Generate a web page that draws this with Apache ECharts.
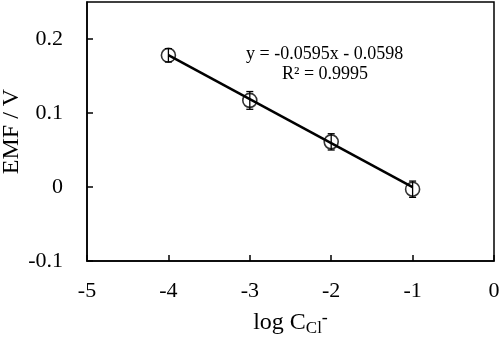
<!DOCTYPE html>
<html><head><meta charset="utf-8">
<script src="https://cdn.jsdelivr.net/npm/echarts@6/dist/echarts.min.js"></script>
<style>html,body{margin:0;padding:0;background:#fff}#c{width:500px;height:337px}</style>
</head><body><div id="c"></div>
<script>
const logC = [-4, -3, -2, -1];
const emf = [0.178, 0.117, 0.061, -0.003];
const err = [0.009, 0.012, 0.011, 0.011];
const trendX = [-4, -1];
const trendY = [0.1782, -0.0003];
const xTicks = [-5, -4, -3, -2, -1, 0];
const yTicks = [-0.1, 0, 0.1, 0.2];
const eqText = 'y = -0.0595x - 0.0598';
const r2Text = 'R² = 0.9995';

const font = '"Liberation Serif", "Times New Roman", serif';
const chart = echarts.init(document.getElementById('c'));
chart.setOption({
  animation: false,
  backgroundColor: '#fff',
  grid: {left: 87, right: 6, top: 2, bottom: 76, containLabel: false, outerBoundsMode: 'none',
    show: true, borderColor: '#000', borderWidth: 1.5},
  xAxis: {
    type: 'value', min: -5, max: 0, interval: 1,
    axisLine: {show: true, onZero: false, lineStyle: {color: '#000', width: 1.5}},
    axisTick: {show: true, inside: true, length: 6, lineStyle: {color: '#000', width: 1.5}},
    splitLine: {show: false},
    axisLabel: {fontFamily: font, fontSize: 22, color: '#000', margin: 19,
      formatter: v => xTicks.includes(v) ? String(v) : ''},
    name: '{a|log C}{b|Cl}{c|-}', nameLocation: 'middle', nameGap: 47, nameMoveOverlap: false,
    nameTextStyle: {rich: {
      a: {fontFamily: font, fontSize: 24, color: '#000'},
      b: {fontFamily: font, fontSize: 17, color: '#000', padding: [12, 0, 0, 0]},
      c: {fontFamily: font, fontSize: 18, color: '#000', padding: [0, 0, 8, 0]}
    }}
  },
  yAxis: {
    type: 'value', min: -0.1, max: 0.25, interval: 0.05,
    axisLine: {show: true, onZero: false, lineStyle: {color: '#000', width: 1.5}},
    axisTick: {show: false},
    splitLine: {show: false},
    axisLabel: {fontFamily: font, fontSize: 22, color: '#000', margin: 24,
      formatter: v => {
        const m = yTicks.find(t => Math.abs(t - v) < 1e-9);
        return m === undefined ? '' : (m === 0 ? '0' : String(m));
      }},
    name: 'EMF / V', nameLocation: 'middle', nameGap: 63, nameMoveOverlap: false,
    nameTextStyle: {fontFamily: font, fontSize: 24, color: '#000'}
  },
  series: [
    {
      type: 'line', data: trendX.map((x, i) => [x, trendY[i]]),
      symbol: 'none', lineStyle: {color: '#000', width: 2.5}, z: 2
    },
    {
      type: 'custom', z: 3,
      data: logC.map((x, i) => [x, emf[i], err[i]]),
      renderItem: (params, api) => {
        const x = api.value(0), y = api.value(1), e = api.value(2);
        const p1 = api.coord([x, y + e]), p2 = api.coord([x, y - e]);
        const w = 3.5;
        const st = {stroke: '#000', lineWidth: 1.3};
        return {type: 'group', children: [
          {type: 'line', shape: {x1: p1[0], y1: p1[1], x2: p2[0], y2: p2[1]}, style: st},
          {type: 'line', shape: {x1: p1[0]-w, y1: p1[1], x2: p1[0]+w, y2: p1[1]}, style: st},
          {type: 'line', shape: {x1: p2[0]-w, y1: p2[1], x2: p2[0]+w, y2: p2[1]}, style: st}
        ]};
      }
    },
    {
      type: 'scatter', z: 4,
      data: logC.map((x, i) => [x, emf[i]]),
      symbol: 'circle', symbolSize: 14,
      itemStyle: {color: 'rgba(255,255,255,0)', borderColor: '#000', borderWidth: 1.6}
    },
    {
      type: 'custom', z: 5, data: [[0]],
      renderItem: (params, api) => {
        const children = yTicks.map(t => {
          const p = api.coord([-5, t]);
          return {type: 'line', shape: {x1: p[0], y1: p[1], x2: p[0] + 6, y2: p[1]}, style: {stroke: '#000', lineWidth: 1.5}};
        });
        return {type: 'group', children};
      }
    }
  ],
  graphic: [
    {type: 'text', left: 246, top: 45, style: {text: eqText, font: '18px ' + font, fill: '#000'}},
    {type: 'text', left: 282, top: 65, style: {text: r2Text, font: '18px ' + font, fill: '#000'}}
  ]
});
</script>
</body></html>
